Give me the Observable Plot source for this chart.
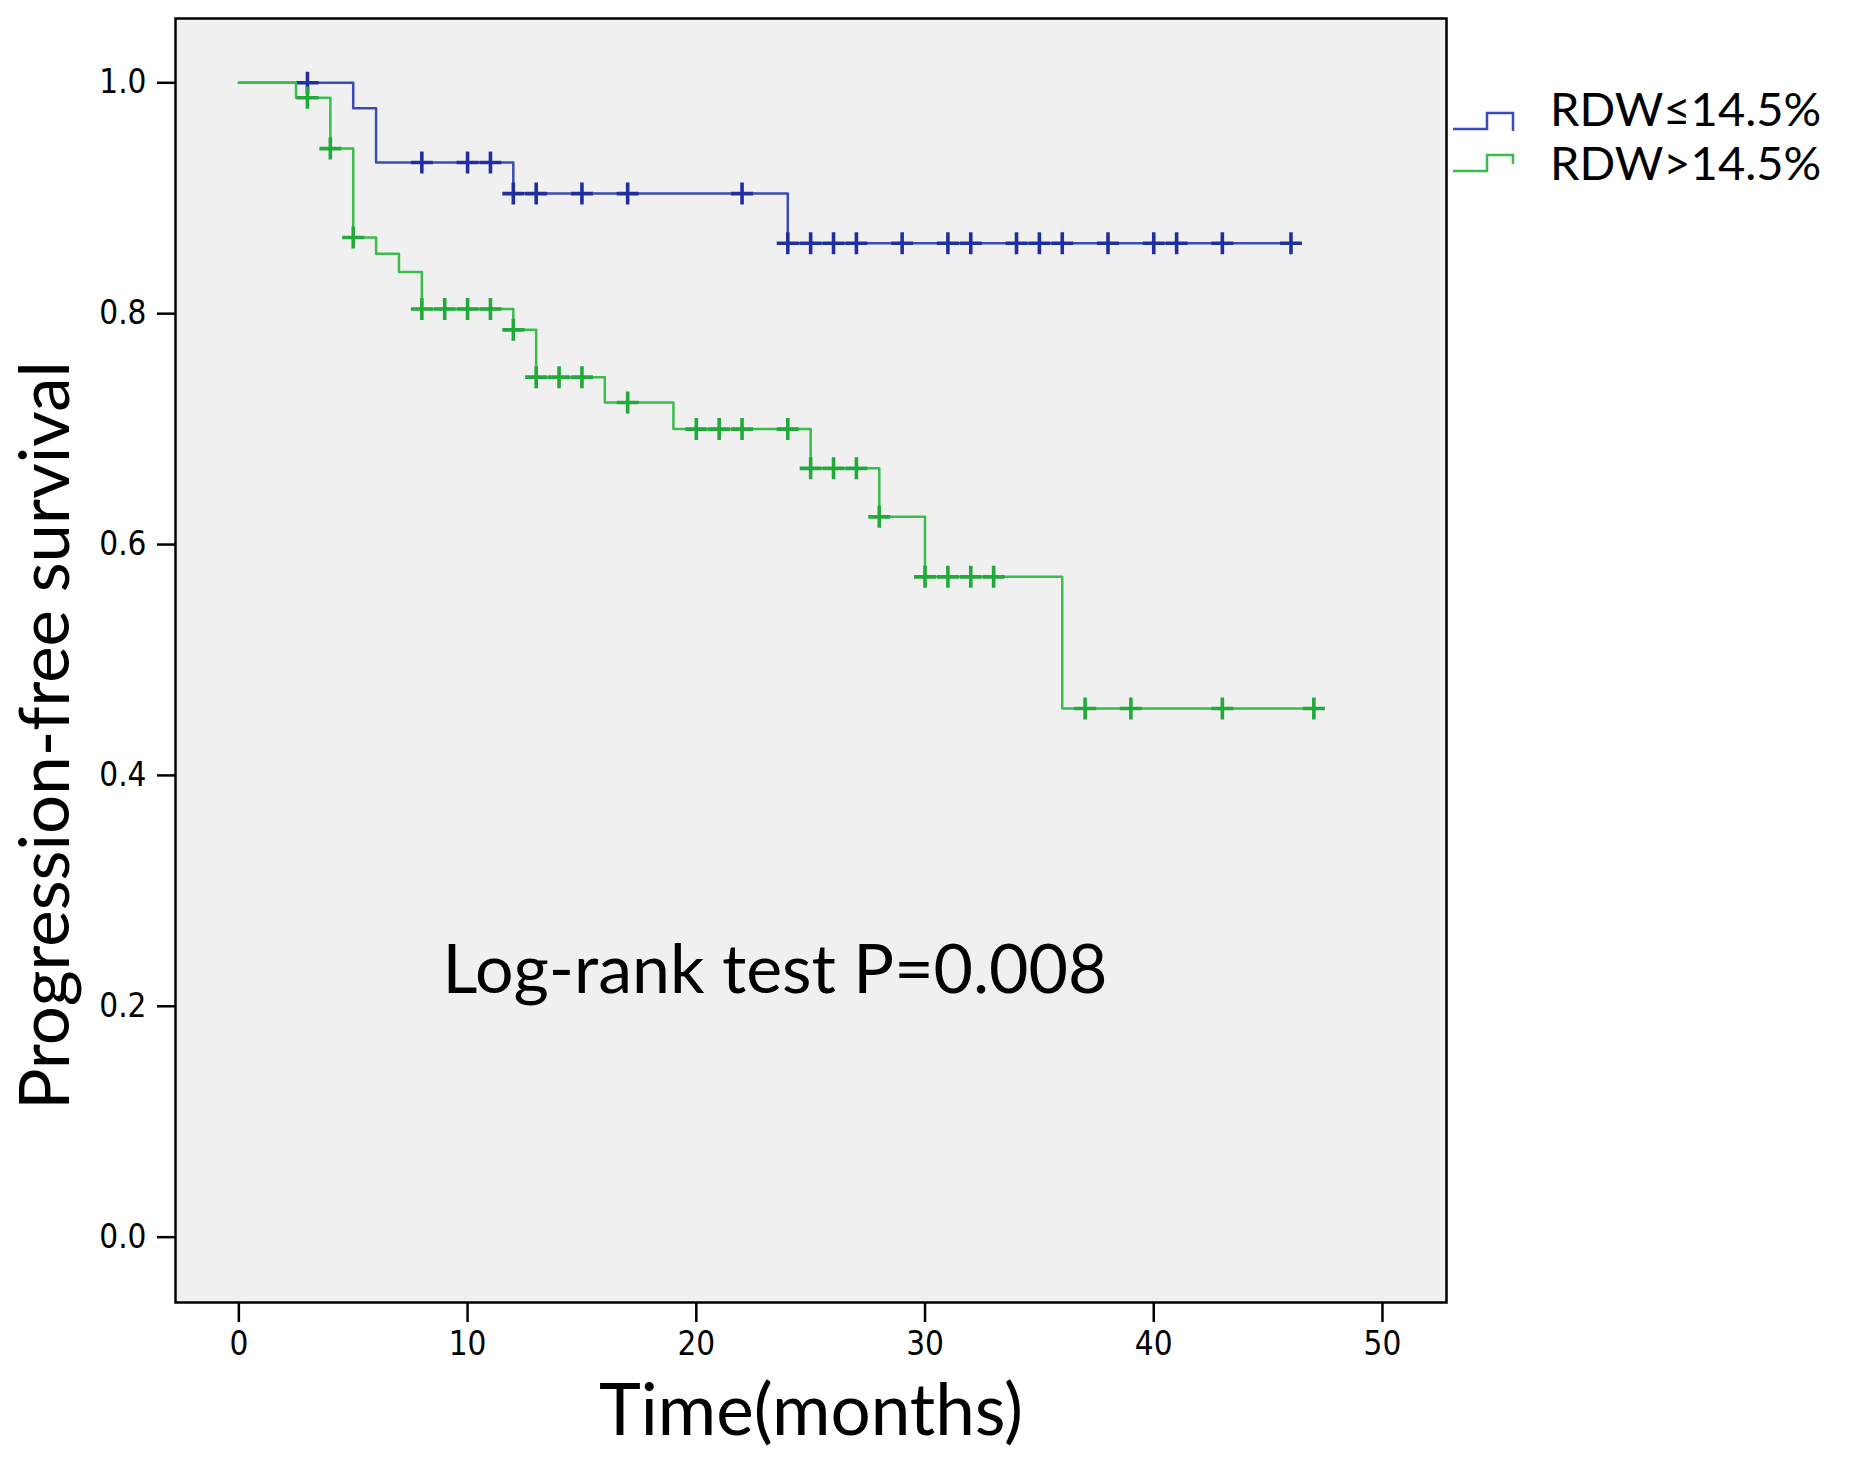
<!DOCTYPE html>
<html>
<head>
<meta charset="utf-8">
<script src="https://cdn.jsdelivr.net/npm/d3@7"></script>
<script src="https://cdn.jsdelivr.net/npm/@observablehq/plot@0.6"></script>
<style>
  body { margin: 0; background: #ffffff; }
  #chart svg { display: block; }
</style>
</head>
<body>
<div id="chart"></div>
<script>
// ---------------- data ----------------
const groups = ["RDW≤14.5%", "RDW>14.5%"];

// RDW ≤ 14.5%  (blue)
const lowStepTimes = [0, 5, 6, 12, 24];
const lowStepSurv  = [1.0, 0.978, 0.931, 0.904, 0.861];
const lowEndTime   = 46;
const lowCensorTimes = [3, 8, 10, 11, 12, 13, 15, 17, 22, 24, 25, 26, 27, 29, 31, 32, 34, 35, 36, 38, 40, 41, 43, 46];

// RDW > 14.5%  (green)
const highStepTimes = [0, 2.5, 4, 5, 6, 7, 8, 12, 13, 16, 19, 25, 28, 30, 36];
const highStepSurv  = [1.0, 0.987, 0.943, 0.866, 0.852, 0.836, 0.804, 0.786, 0.745, 0.723, 0.700, 0.666, 0.624, 0.572, 0.458];
const highEndTime   = 47;
const highCensorTimes = [3, 4, 5, 8, 9, 10, 11, 12, 13, 14, 15, 17, 20, 21, 22, 24, 25, 26, 27, 28, 30, 31, 32, 33, 37, 39, 43, 47];

const xTicks = [0, 10, 20, 30, 40, 50];
const yTicks = [0.0, 0.2, 0.4, 0.6, 0.8, 1.0];

const yTitle = "Progression-free survival";
const xTitle = "Time(months)";
const annotation = "Log-rank test P=0.008";

// ---------------- styles ----------------
const lineColors   = ["#3a4db4", "#3bbd4e"];
const censorColors = ["#1f309e", "#21aa3a"];
const textFont = "Lato, 'Open Sans', sans-serif";
const tickFont = "'Liberation Sans Narrow', 'Arial Narrow', 'DejaVu Sans Condensed', sans-serif";

// ---------------- derived tables ----------------
function survAt(times, surv, t) {
  let v = surv[0];
  for (let i = 0; i < times.length; i++) if (times[i] <= t) v = surv[i];
  return v;
}
function stepRows(group, times, surv, end) {
  const rows = times.map((t, i) => ({group, t, s: surv[i]}));
  rows.push({group, t: end, s: surv[surv.length - 1]});
  return rows;
}
function censorRows(group, times, stepT, stepS) {
  return times.map(t => ({group, t, s: survAt(stepT, stepS, t)}));
}
const lowLine = stepRows(groups[0], lowStepTimes, lowStepSurv, lowEndTime);
const highLine = stepRows(groups[1], highStepTimes, highStepSurv, highEndTime);
const lowCensor = censorRows(groups[0], lowCensorTimes, lowStepTimes, lowStepSurv);
const highCensor = censorRows(groups[1], highCensorTimes, highStepTimes, highStepSurv);

// "+" censor symbol
const plusSymbol = {
  draw(context, size) {
    const r = Math.sqrt(size / Math.PI);
    context.moveTo(-r, 0); context.lineTo(r, 0);
    context.moveTo(0, -r); context.lineTo(0, r);
  }
};

const chart = Plot.plot({
  width: 1850,
  height: 1469,
  marginLeft: 175,
  marginRight: 404,
  marginTop: 18,
  marginBottom: 167,
  x: {domain: [-2.77, 52.8]},
  y: {domain: [-0.0566, 1.0557]},
  style: {background: "#ffffff", color: "#000000"},
  marks: [
    Plot.frame({fill: "#f0f0f0"}),
    Plot.line(lowLine, {x: "t", y: "s", curve: "step-after", stroke: lineColors[0], strokeWidth: 2.5}),
    Plot.dot(lowCensor, {x: "t", y: "s", symbol: plusSymbol, r: 11, fill: "none", stroke: censorColors[0], strokeWidth: 3.6}),
    Plot.line(highLine, {x: "t", y: "s", curve: "step-after", stroke: lineColors[1], strokeWidth: 2.5}),
    Plot.dot(highCensor, {x: "t", y: "s", symbol: plusSymbol, r: 11, fill: "none", stroke: censorColors[1], strokeWidth: 3.6}),
    Plot.axisX({ticks: xTicks, tickSize: 20, tickPadding: 9, tickFormat: d => String(d), label: null,
      fontSize: 33, fontFamily: tickFont, strokeWidth: 2.5, stroke: "#000"}),
    Plot.axisY({ticks: yTicks, tickSize: 18, tickPadding: 11, tickFormat: d => d.toFixed(1), label: null,
      fontSize: 33, fontFamily: tickFont, strokeWidth: 2.5, stroke: "#000"}),
    Plot.frame({stroke: "#000000", strokeWidth: 2.5}),
    Plot.text([yTitle], {frameAnchor: "left", textAnchor: "middle", rotate: -90, dx: -129, dy: 75, lineAnchor: "middle",
      fontSize: 69, fontFamily: textFont, fill: "#000"}),
    Plot.text([xTitle], {frameAnchor: "bottom", textAnchor: "middle", dy: 110, lineAnchor: "middle",
      fontSize: 71, fontFamily: textFont, fill: "#000"}),
    Plot.text([annotation], {frameAnchor: "middle", textAnchor: "middle", dx: -36, dy: 311, lineAnchor: "middle",
      fontSize: 68, fontFamily: textFont, fill: "#000"})
  ]
});

// ---------------- legend (outside the frame, top right) ----------------
const svg = d3.select(chart);
const legendX = 1453, legendY0 = 129, legendStep = 42;
groups.forEach((g, i) => {
  const y = legendY0 + i * legendStep;
  const tail = i === 0 ? 2 : -7;
  svg.append("path")
    .attr("d", `M${legendX},${y}H${legendX + 34}V${y - 16}H${legendX + 60}V${y + tail}`)
    .attr("fill", "none")
    .attr("stroke", lineColors[i])
    .attr("stroke-width", 2.5);
  svg.append("text")
    .attr("x", legendX + 97)
    .attr("y", y - 3 + i * 12)
    .attr("text-anchor", "start")
    .attr("font-family", textFont)
    .attr("font-size", 47)
    .attr("fill", "#000")
    .text(g);
});

document.getElementById("chart").appendChild(chart);
</script>
</body>
</html>
